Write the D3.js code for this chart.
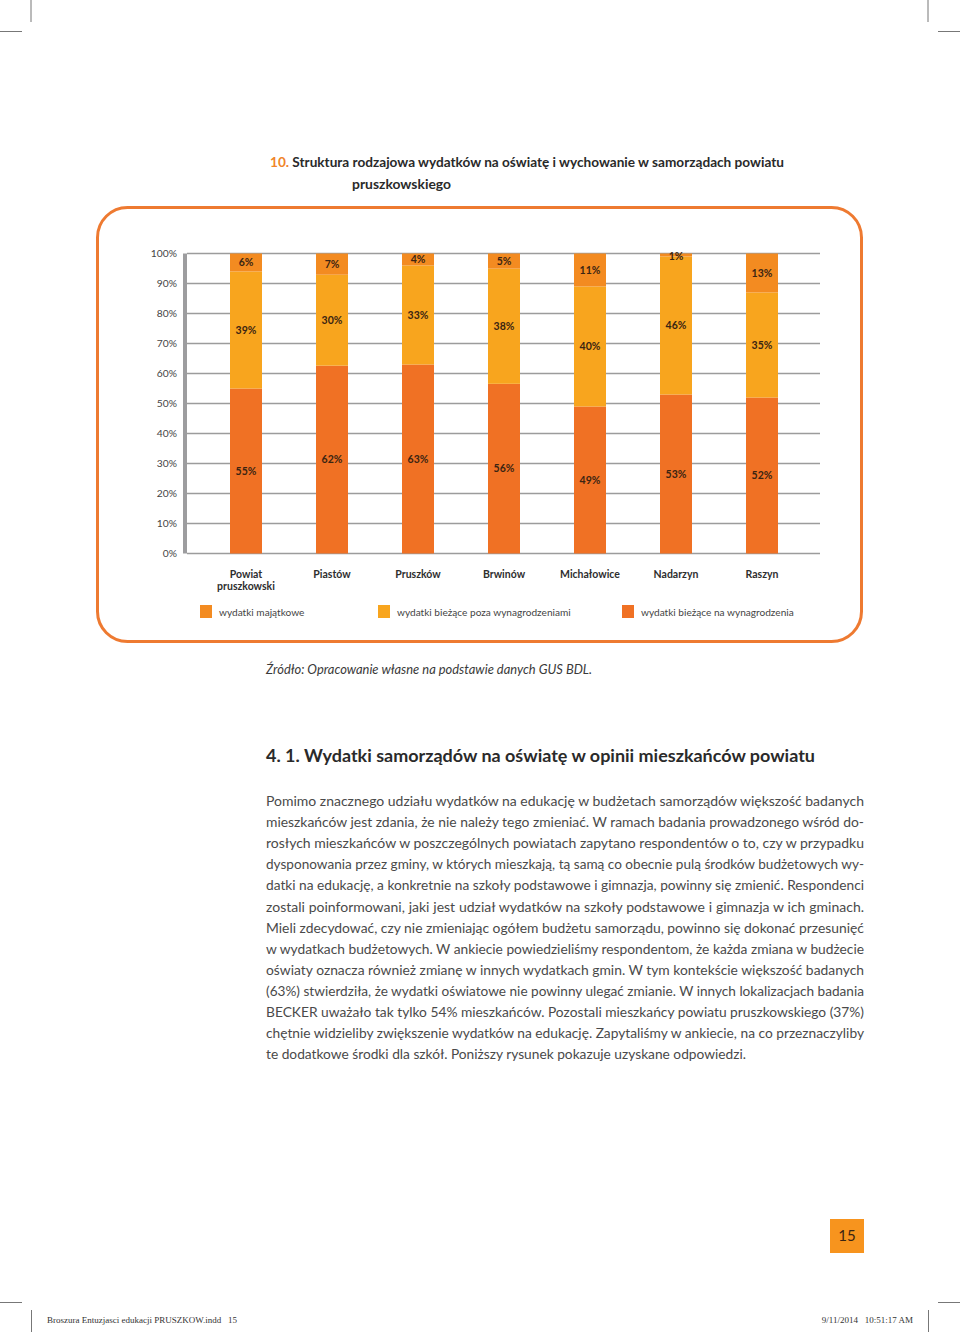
<!DOCTYPE html>
<html><head><meta charset="utf-8">
<script src="https://cdn.jsdelivr.net/npm/d3@7"></script>
<style>
html,body{margin:0;padding:0;background:#fff;}
svg{display:block;}
</style></head>
<body>
<svg id="page" width="960" height="1332"></svg>
<script>
// ---------- DATA ----------
const categories = ["Powiat\npruszkowski","Piastów","Pruszków","Brwinów","Michałowice","Nadarzyn","Raszyn"];
const wynagrodzenia = [55,62,63,56,49,53,52];          // wydatki bieżące na wynagrodzenia (bottom)
const pozaWynagrodzeniami = [39,30,33,38,40,46,35];    // wydatki bieżące poza wynagrodzeniami (middle)
const majatkowe = [6,7,4,5,11,1,13];                   // wydatki majątkowe (top)
const seriesNames = ["wydatki majątkowe","wydatki bieżące poza wynagrodzeniami","wydatki bieżące na wynagrodzenia"];
const yTicks = [0,0.1,0.2,0.3,0.4,0.5,0.6,0.7,0.8,0.9,1.0];

const titleNum = "10.";
const titleLine1 = "Struktura rodzajowa wydatków na oświatę i wychowanie w samorządach powiatu";
const titleLine2 = "pruszkowskiego";
const sourceText = "Źródło: Opracowanie własne na podstawie danych GUS BDL.";
const heading = "4. 1. Wydatki samorządów na oświatę w opinii mieszkańców powiatu";
const bodyLines = [
"Pomimo znacznego udziału wydatków na edukację w budżetach samorządów większość badanych",
"mieszkańców jest zdania, że nie należy tego zmieniać. W ramach badania prowadzonego wśród do-",
"rosłych mieszkańców w poszczególnych powiatach zapytano respondentów o to, czy w przypadku",
"dysponowania przez gminy, w których mieszkają, tą samą co obecnie pulą środków budżetowych wy-",
"datki na edukację, a konkretnie na szkoły podstawowe i gimnazja, powinny się zmienić. Respondenci",
"zostali poinformowani, jaki jest udział wydatków na szkoły podstawowe i gimnazja w ich gminach.",
"Mieli zdecydować, czy nie zmieniając ogółem budżetu samorządu, powinno się dokonać przesunięć",
"w wydatkach budżetowych. W ankiecie powiedzieliśmy respondentom, że każda zmiana w budżecie",
"oświaty oznacza również zmianę w innych wydatkach gmin. W tym kontekście większość badanych",
"(63%) stwierdziła, że wydatki oświatowe nie powinny ulegać zmianie. W innych lokalizacjach badania",
"BECKER uważało tak tylko 54% mieszkańców. Pozostali mieszkańcy powiatu pruszkowskiego (37%)",
"chętnie widzieliby zwiększenie wydatków na edukację. Zapytaliśmy w ankiecie, na co przeznaczyliby",
"te dodatkowe środki dla szkół. Poniższy rysunek pokazuje uzyskane odpowiedzi."
];
const pageNumber = "15";
const footerLeft = "Broszura Entuzjasci edukacji PRUSZKOW.indd   15";
const footerRight = "9/11/2014   10:51:17 AM";

// ---------- STYLE ----------
const FONT = "Lato, 'Open Sans', sans-serif";
const colTop = "#F38B21", colMid = "#F8A51E", colBot = "#F07124";
const frameCol = "#EE7A31";

const svg = d3.select("#page");

// crop marks
const crop = svg.append("g").attr("stroke","#777").attr("stroke-width",1);
[[31,0,31,22],[0,31.5,22,31.5],[928,0,928,22],[938,31.5,960,31.5],
 [0,1302.5,22,1302.5],[31.5,1310,31.5,1332],[938,1302.5,960,1302.5],[928.5,1310,928.5,1332]]
 .forEach(c=>crop.append("line").attr("x1",c[0]).attr("y1",c[1]).attr("x2",c[2]).attr("y2",c[3]));

function fit(sel, w){
  const n = sel.node().getComputedTextLength();
  if (Math.abs(n - w) > 1) sel.attr("textLength", w).attr("lengthAdjust","spacingAndGlyphs");
}

// title
const t1 = svg.append("text").attr("x",270).attr("y",167).attr("font-family",FONT).attr("font-weight","bold").attr("font-size",13.5).attr("fill","#2a2a2a");
t1.append("tspan").attr("fill","#F0852A").text(titleNum + " ");
t1.append("tspan").text(titleLine1);
fit(t1, 514);
const t2 = svg.append("text").attr("x",352).attr("y",189).attr("font-family",FONT).attr("font-weight","bold").attr("font-size",13.5).attr("fill","#2a2a2a").text(titleLine2);
fit(t2, 99);

// frame
svg.append("rect").attr("x",97.5).attr("y",207.5).attr("width",764).attr("height",434).attr("rx",30).attr("ry",30)
  .attr("fill","none").attr("stroke",frameCol).attr("stroke-width",3);

// ---------- CHART ----------
const x = d3.scaleBand().domain(categories).range([203,805]).padding(0);
const y = d3.scaleLinear().domain([0,1]).range([553.5,253.5]);
const barW = 32;

const table = categories.map((c,i)=>({cat:c, wyn:wynagrodzenia[i], poza:pozaWynagrodzeniami[i], maj:majatkowe[i]}));
const keys = ["wyn","poza","maj"];
const colorOf = {wyn:colBot, poza:colMid, maj:colTop};
const stack = d3.stack().keys(keys).offset(d3.stackOffsetExpand);
const series = stack(table);

// gridlines
svg.append("g").selectAll("line").data(yTicks).join("line")
  .attr("x1",187).attr("x2",820).attr("y1",d=>y(d)).attr("y2",d=>y(d))
  .attr("stroke","#9c9c9c").attr("stroke-width",1.3);
// y axis bar
svg.append("rect").attr("x",183).attr("y",y(1)).attr("width",4).attr("height",y(0)-y(1)).attr("fill","#9d9d9f");
// y tick labels
svg.append("g").selectAll("text").data(yTicks).join("text")
  .attr("x",177).attr("y",d=>y(d)).attr("dy","0.35em").attr("text-anchor","end")
  .attr("font-family",FONT).attr("font-size",10.3).attr("fill","#444")
  .text(d=>d3.format(".0%")(d));

// bars
const gS = svg.append("g").selectAll("g").data(series).join("g").attr("fill",s=>colorOf[s.key]);
gS.selectAll("rect").data(s=>s).join("rect")
  .attr("x",d=>x(d.data.cat)+x.bandwidth()/2-barW/2).attr("width",barW)
  .attr("y",d=>y(d[1])).attr("height",d=>y(d[0])-y(d[1]));
// value labels
const gL = svg.append("g").selectAll("g").data(series).join("g");
gL.selectAll("text").data(s=>s.map(d=>({d, key:s.key}))).join("text")
  .attr("x",o=>x(o.d.data.cat)+x.bandwidth()/2)
  .attr("y",o=>(y(o.d[0])+y(o.d[1]))/2 + (o.key==="maj" && o.d.data.maj<3 ? 1 : 0))
  .attr("dy","0.35em").attr("text-anchor","middle")
  .attr("font-family",FONT).attr("font-weight","bold").attr("font-size",10.5).attr("fill","#3a2412")
  .text(o=>o.d.data[o.key]+"%");

// category labels
const cl = svg.append("g").selectAll("text").data(categories).join("text")
  .attr("x",d=>x(d)+x.bandwidth()/2).attr("y",578).attr("text-anchor","middle")
  .attr("font-family",FONT).attr("font-weight","bold").attr("font-size",10.5).attr("fill","#2e2e2e");
cl.each(function(d){
  const el = d3.select(this);
  d.split("\n").forEach((ln,i)=>el.append("tspan").attr("x",x(d)+x.bandwidth()/2).attr("dy",i?11.5:0).text(ln));
});

// legend
const legendX = [200,378,622];
const legendCols = [colTop,colMid,colBot];
const lg = svg.append("g").selectAll("g").data(seriesNames).join("g")
  .attr("transform",(d,i)=>`translate(${legendX[i]},605)`);
lg.append("rect").attr("width",12).attr("height",13).attr("fill",(d,i)=>legendCols[i]);
lg.append("text").attr("x",19).attr("y",7).attr("dy","0.35em")
  .attr("font-family",FONT).attr("font-size",10.1).attr("fill","#444").text(d=>d);

// source
const src = svg.append("text").attr("x",266).attr("y",674).attr("font-family",FONT).attr("font-style","italic")
  .attr("font-size",13).attr("fill","#3a3a3a").text(sourceText);
fit(src, 326);

// heading
const hd = svg.append("text").attr("x",266).attr("y",762).attr("font-family",FONT).attr("font-weight","bold")
  .attr("font-size",16.5).attr("fill","#2a2a2a").text(heading);
fit(hd, 549);

// body
const bodyW = 598;
bodyLines.forEach((ln,i)=>{
  const t = svg.append("text").attr("x",266).attr("y",806 + i*21.1)
    .attr("font-family",FONT).attr("font-size",14).attr("fill","#4a4a4a").text(ln);
  const w = t.node().getComputedTextLength();
  if (i < bodyLines.length-1) {
    const gaps = ln.split(" ").length-1;
    if (w < bodyW) t.attr("word-spacing",(bodyW-w)/gaps);
    else t.attr("textLength",bodyW).attr("lengthAdjust","spacingAndGlyphs");
  } else if (w > 480) {
    t.attr("textLength",480).attr("lengthAdjust","spacingAndGlyphs");
  }
});

// page number
svg.append("rect").attr("x",830).attr("y",1219).attr("width",34).attr("height",34).attr("fill","#F7941E");
svg.append("text").attr("x",847).attr("y",1236).attr("dy","0.36em").attr("text-anchor","middle")
  .attr("font-family",FONT).attr("font-size",15).attr("fill","#3a2412").text(pageNumber);

// footer
svg.append("text").attr("x",47).attr("y",1323).attr("font-family","'Liberation Serif', serif").attr("font-size",9)
  .attr("fill","#333").style("white-space","pre").text(footerLeft);
svg.append("text").attr("x",913).attr("y",1323).attr("text-anchor","end").attr("font-family","'Liberation Serif', serif").attr("font-size",9)
  .attr("fill","#333").style("white-space","pre").text(footerRight);
</script>
</body></html>
